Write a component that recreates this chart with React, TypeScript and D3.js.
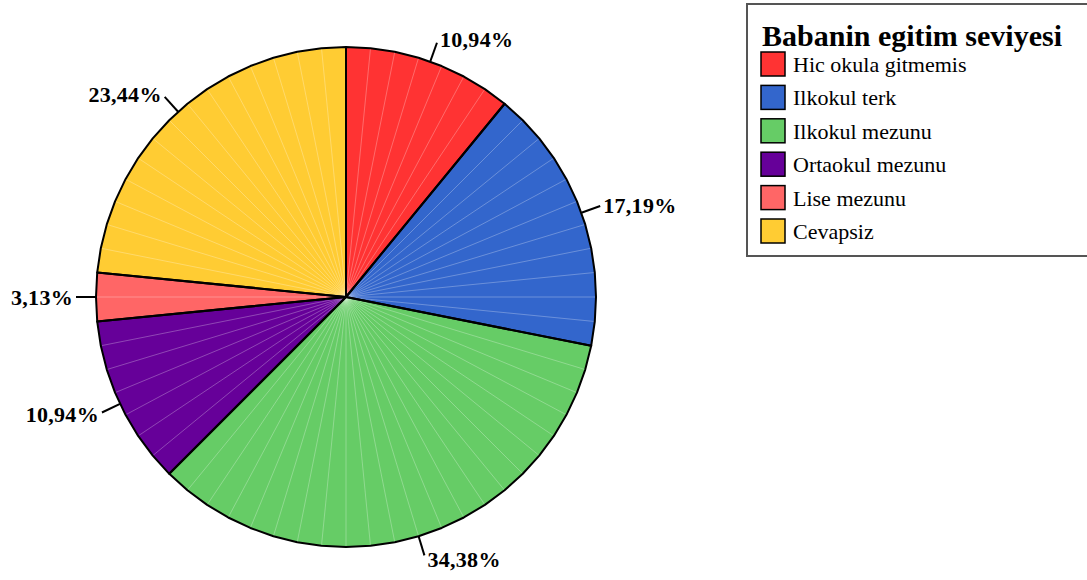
import React from "react";
import * as d3 from "d3";

const categories = [
  "Hic okula gitmemis",
  "Ilkokul terk",
  "Ilkokul mezunu",
  "Ortaokul mezunu",
  "Lise mezunu",
  "Cevapsiz",
];
const percents = [10.94, 17.19, 34.38, 10.94, 3.13, 23.44];
const labels = ["10,94%", "17,19%", "34,38%", "10,94%", "3,13%", "23,44%"];
const colors = ["#FF3333", "#3366CC", "#66CC66", "#660099", "#FF6666", "#FFCC33"];
const legendTitle = "Babanin egitim seviyesi";
const facetCount = 64;

const W = 1087;
const H = 580;
const cx = 346;
const cy = 297;
const R = 250;
const FONT = "Liberation Serif, Times New Roman, serif";

export default function App() {
  const pie = d3
    .pie<number>()
    .sort(null)
    .value((d) => d)
    .startAngle(0)
    .endAngle(2 * Math.PI);
  const arcs = pie(percents);
  const step = (2 * Math.PI) / facetCount;
  const pt = (a: number, r: number) => d3.pointRadial(a, r);

  const slices = arcs.map((a, i) => {
    const verts: number[] = [a.startAngle];
    const k0 = Math.ceil(a.startAngle / step + 0.01);
    for (let k = k0; k * step < a.endAngle - 0.01; k++) verts.push(k * step);
    verts.push(a.endAngle);
    const poly = [[0, 0] as [number, number], ...verts.map((v) => pt(v, R))];
    const path = d3.line()(poly) + "Z";
    const inner = verts.slice(1, -1);
    const mid = (a.startAngle + a.endAngle) / 2;
    return { path, inner, mid, i };
  });

  const legendY0 = 52;
  const legendStep = 33.4;

  return (
    <svg
      width={W}
      height={H}
      style={{ position: "absolute", left: 0, top: 0, background: "#fff" }}
    >
      <g transform={`translate(${cx},${cy})`}>
        {slices.map((s) => (
          <path key={"f" + s.i} d={s.path} fill={colors[s.i]} stroke="none" />
        ))}
        {slices.map((s) =>
          s.inner.map((v, j) => {
            const p = pt(v, R);
            return (
              <line
                key={"l" + s.i + "-" + j}
                x1={0}
                y1={0}
                x2={p[0]}
                y2={p[1]}
                stroke="rgba(255,255,255,0.35)"
                strokeWidth={0.8}
              />
            );
          })
        )}
        {slices.map((s) => (
          <path
            key={"o" + s.i}
            d={s.path}
            fill="none"
            stroke="#000"
            strokeWidth={2}
            strokeLinejoin="round"
          />
        ))}
        {slices.map((s) => {
          const p1 = pt(s.mid, R);
          const p2 = pt(s.mid, R + 20);
          const sn = Math.sin(s.mid);
          const cs = Math.cos(s.mid);
          const right = sn > 0.001;
          const tx = p2[0] + (right ? 3 : -3);
          const ty = p2[1] + 8 - 4 * cs;
          return (
            <g key={"lab" + s.i}>
              <line
                x1={p1[0]}
                y1={p1[1]}
                x2={p2[0]}
                y2={p2[1]}
                stroke="#000"
                strokeWidth={2}
              />
              <text
                x={tx}
                y={ty}
                textAnchor={right ? "start" : "end"}
                fontFamily={FONT}
                fontWeight="bold"
                fontSize={22}
                letterSpacing={0.3}
                fill="#000"
              >
                {labels[s.i]}
              </text>
            </g>
          );
        })}
      </g>

      <rect x={747} y={4} width={400} height={252} fill="#fff" stroke="#555" strokeWidth={2} />
      <text x={762} y={46} fontFamily={FONT} fontWeight="bold" fontSize={30} fill="#000">
        {legendTitle}
      </text>
      {categories.map((c, i) => {
        const y = legendY0 + i * legendStep;
        return (
          <g key={"lg" + i}>
            <rect
              x={761}
              y={y}
              width={24}
              height={24}
              fill={colors[i]}
              stroke="#000"
              strokeWidth={1.5}
            />
            <text x={793} y={y + 20} fontFamily={FONT} fontSize={22} fill="#000">
              {c}
            </text>
          </g>
        );
      })}
    </svg>
  );
}
